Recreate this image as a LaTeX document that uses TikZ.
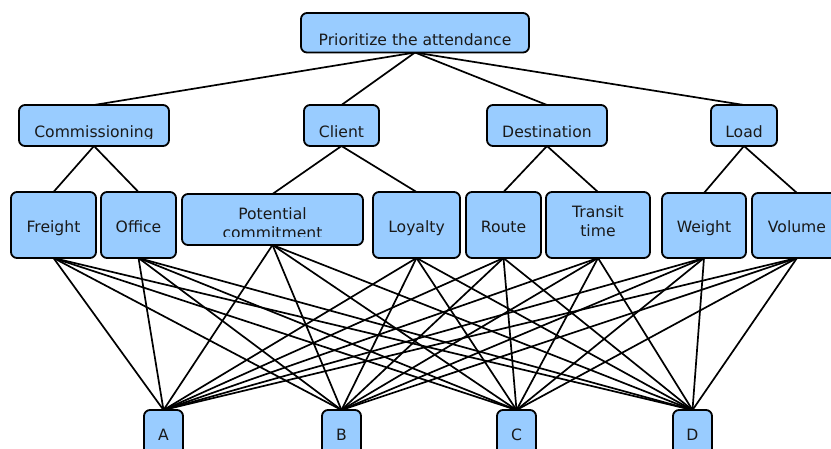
\documentclass[tikz,border=0pt]{standalone}
\usepackage{fontspec}
\setmainfont{DejaVu Sans}
\usetikzlibrary{backgrounds,calc}
\definecolor{boxblue}{RGB}{153,204,255}
\tikzset{
  box/.style={draw=black, line width=1.8pt, fill=boxblue, rounded corners=6pt, inner sep=0pt, outer sep=0pt},
  txt/.style={inner sep=0pt, anchor=base, align=center, font=\fontsize{15.6}{19}\selectfont, text=black!90},
  link/.style={line width=1.7pt, draw=black}
}
\newcommand\tbox[8]{%
  \node[box, minimum width={(#4-#2)*1pt}, minimum height={(#5-#3)*1pt}] (#1) at ({(#2+#4)/2},{(#3+#5)/2}) {};
  \begin{scope}
    \clip (#2,#3) rectangle (#4,#6);
    \node[txt] (#1-t) at ({(#2+#4)/2},#7) {#8};
  \end{scope}
}
\begin{document}
\begin{tikzpicture}[x=1pt,y=-1pt]
\useasboundingbox (0,0) rectangle (831,448);
\clip (0,0) rectangle (831,448);
% root
\tbox{root}{301}{13}{529}{52.5}{52.5}{45}{Prioritize the attendance}
% level 2
\tbox{comm}{19}{105}{169}{146}{138}{137}{Commissioning}
\tbox{client}{304}{105}{379}{146}{138}{137}{Client}
\tbox{dest}{487}{105}{607}{146}{138}{137}{Destination}
\tbox{load}{711}{105}{777}{146}{138}{137}{Load}
% level 3
\tbox{freight}{11}{192}{96}{258}{258}{232}{Freight}
\tbox{office}{101}{192}{176}{258}{258}{232}{Office}
\tbox{potential}{182}{194}{363}{245}{236.2}{238.3}{Potential\\commitment}
\tbox{loyalty}{373}{192}{460}{258}{258}{232}{Loyalty}
\tbox{route}{466}{192}{541}{258}{258}{232}{Route}
\tbox{transit}{546}{192}{650}{258}{258}{236.7}{Transit\\time}
\tbox{weight}{662}{193}{746}{258}{258}{232}{Weight}
\tbox{volume}{752}{193}{842}{258}{258}{232}{Volume}
% alternatives
\tbox{A}{144}{410}{183}{460}{460}{440.7}{A}
\tbox{B}{322}{410}{361}{460}{460}{440.7}{B}
\tbox{C}{497}{410}{536}{460}{460}{440.7}{C}
\tbox{D}{673}{410}{712}{460}{460}{440.7}{D}
\begin{scope}[on background layer]
  \foreach \t in {comm,client,dest,load}
    \draw[link] (root.south) -- (\t.north);
  \draw[link] (comm.south) -- (freight.north);
  \draw[link] (comm.south) -- (office.north);
  \draw[link] (client.south) -- (potential.north);
  \draw[link] (client.south) -- (loyalty.north);
  \draw[link] (dest.south) -- (route.north);
  \draw[link] (dest.south) -- (transit.north);
  \draw[link] (load.south) -- (weight.north);
  \draw[link] (load.south) -- (volume.north);
  \foreach \s in {freight,office,potential,loyalty,route,transit,weight,volume}
    \foreach \t in {A,B,C,D}
      \draw[link] (\s.south) -- (\t.north);
\end{scope}
\end{tikzpicture}
\end{document}
